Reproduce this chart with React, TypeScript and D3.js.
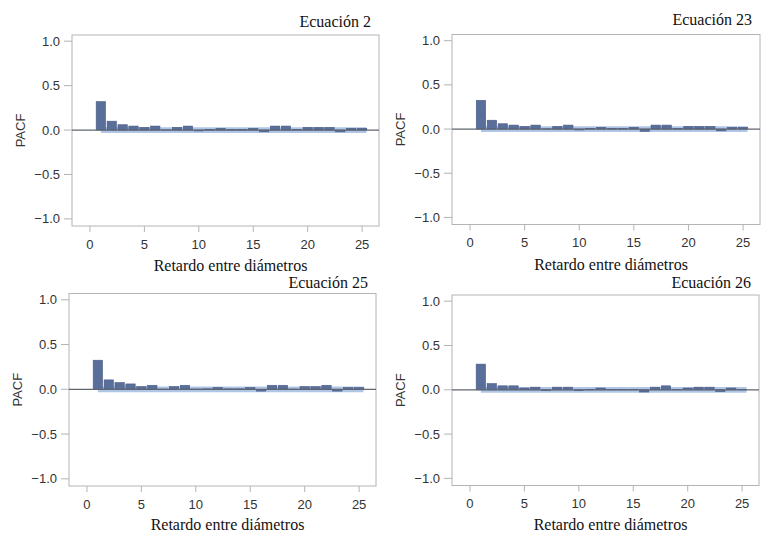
import React from 'react';
import * as d3 from 'd3';

// PACF by lag, one series per equation
const LAGS = d3.range(1, 26);
const TITLES = ['Ecuación 2', 'Ecuación 23', 'Ecuación 25', 'Ecuación 26'];
const PACF_EC2 = [0.32, 0.1, 0.06, 0.045, 0.03, 0.045, 0.003, 0.03, 0.045, -0.01, 0.005, 0.02, 0.005, 0.005, 0.02, -0.02, 0.045, 0.045, 0.005, 0.03, 0.03, 0.03, -0.02, 0.02, 0.02];
const PACF_EC23 = [0.325, 0.1, 0.06, 0.045, 0.03, 0.045, 0.003, 0.03, 0.045, -0.01, 0.005, 0.02, 0.005, 0.005, 0.02, -0.025, 0.045, 0.045, 0.005, 0.03, 0.03, 0.03, -0.02, 0.02, 0.02];
const PACF_EC25 = [0.325, 0.105, 0.075, 0.06, 0.03, 0.045, 0.003, 0.03, 0.045, 0.003, 0.005, 0.02, 0.005, 0.005, 0.02, -0.02, 0.045, 0.045, 0.003, 0.03, 0.03, 0.045, -0.02, 0.02, 0.02];
const PACF_EC26 = [0.29, 0.07, 0.045, 0.045, 0.02, 0.03, -0.01, 0.03, 0.03, -0.01, 0.002, 0.02, 0.005, 0.005, 0.005, -0.025, 0.03, 0.045, 0.002, 0.02, 0.03, 0.03, -0.02, 0.02, 0.005];
const SERIES = [PACF_EC2, PACF_EC23, PACF_EC25, PACF_EC26];
const BAND = 0.032;
const X_TICKS = [0, 5, 10, 15, 20, 25];
const Y_TICKS = [1.0, 0.5, 0.0, -0.5, -1.0];

// frame rectangles of the four panels
const FRAMES = [
  { left: 72, right: 379, top: 35, bottom: 226, titleY: 27, labelY: 271 },
  { left: 452, right: 760, top: 34.5, bottom: 224.5, titleY: 25, labelY: 270 },
  { left: 69, right: 376, top: 293.5, bottom: 486, titleY: 288, labelY: 530 },
  { left: 452, right: 759, top: 295, bottom: 485.5, titleY: 288, labelY: 530 },
];

const SANS = '"Liberation Sans", Arial, sans-serif';
const SERIF = '"Liberation Serif", "Times New Roman", serif';
const BAR = '#5a6e9a';
const BAR_EDGE = '#4a5c86';
const BAND_FILL = '#b0c6e6';
const FRAME = '#b4b4b4';

const Panel: React.FC<{ frame: typeof FRAMES[0]; title: string; values: number[] }> = ({ frame, title, values }) => {
  const x = d3.scaleLinear().domain([-1.65, 26.55]).range([frame.left, frame.right]);
  const y = d3.scaleLinear().domain([-1.08, 1.07]).range([frame.bottom, frame.top]);
  const half = 0.43;
  const bandArea = d3.area<number>()
    .x(d => x(d))
    .y0(y(-BAND))
    .y1(y(BAND));

  return (
    <g>
      <rect x={frame.left} y={frame.top} width={frame.right - frame.left} height={frame.bottom - frame.top}
        fill="none" stroke={FRAME} strokeWidth={1} />
      <path d={bandArea([1, 25.4]) || ''} fill={BAND_FILL} />
      {LAGS.map((lag, i) => {
        const v = values[i];
        return (
          <rect key={lag}
            x={x(lag - half)}
            width={x(lag + half) - x(lag - half)}
            y={y(Math.max(v, 0))}
            height={Math.abs(y(v) - y(0))}
            fill={BAR} stroke={BAR_EDGE} strokeWidth={0.6} />
        );
      })}
      <line x1={frame.left} x2={frame.right} y1={y(0)} y2={y(0)} stroke="#5f6670" strokeWidth={1.2} />

      {Y_TICKS.map(t => (
        <g key={t}>
          <line x1={frame.left - 8} x2={frame.left} y1={y(t)} y2={y(t)} stroke={FRAME} />
          <text x={frame.left - 12} y={y(t)} dy="0.35em" textAnchor="end" fontFamily={SANS} fontSize={13} fill="#333">
            {d3.format('.1f')(t)}
          </text>
        </g>
      ))}
      {X_TICKS.map(t => (
        <g key={t}>
          <line x1={x(t)} x2={x(t)} y1={frame.bottom} y2={frame.bottom + 6} stroke={FRAME} />
          <text x={x(t)} y={frame.bottom + 22.5} textAnchor="middle" fontFamily={SANS} fontSize={13} fill="#333">
            {t}
          </text>
        </g>
      ))}

      <text transform={`translate(${frame.left - 52},${(frame.top + frame.bottom) / 2}) rotate(-90)`}
        dy="0.35em" textAnchor="middle" fontFamily={SANS} fontSize={13} fill="#333">PACF</text>
      <text x={(frame.left + frame.right) / 2 + 5} y={frame.labelY} textAnchor="middle" fontFamily={SERIF} fontSize={16} fill="#111">
        Retardo entre diámetros
      </text>
      <text x={frame.right - 8} y={frame.titleY} textAnchor="end" fontFamily={SERIF} fontSize={16} fill="#111">
        {title}
      </text>
    </g>
  );
};

export default function App() {
  return (
    <svg width={768} height={535} style={{ position: 'absolute', left: 0, top: 0, background: '#fff' }}>
      {FRAMES.map((f, i) => (
        <Panel key={i} frame={f} title={TITLES[i]} values={SERIES[i]} />
      ))}
    </svg>
  );
}
